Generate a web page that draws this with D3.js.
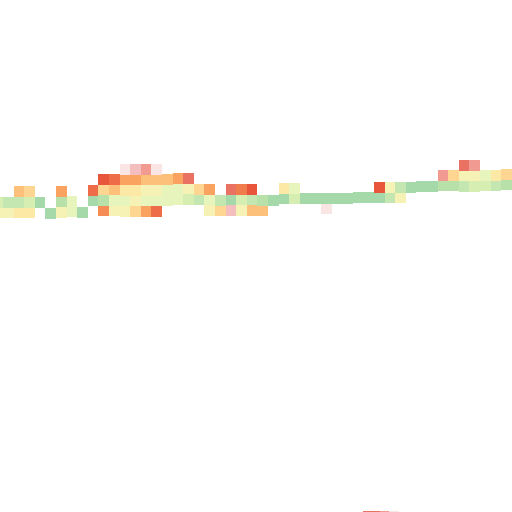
<!DOCTYPE html>
<html>
<head>
<meta charset="utf-8">
<script src="https://cdn.jsdelivr.net/npm/d3@7"></script>
<style>
  html, body { margin: 0; padding: 0; background: #ffffff; }
  svg { display: block; }
</style>
</head>
<body>
<svg id="chart" width="512" height="512"></svg>
<script>
// ---- data ----
// column index along the series
const columns = d3.range(0, 49);
// top of each column's stack (row units)
const columnTop = [
  18.58, 18.58, 17.59, 17.59, 18.58, 19.62, 17.55, 18.49, 19.53, 17.45,
  16.42, 16.42, 15.47, 15.47, 15.47, 15.47, 16.42, 16.32, 16.32, 17.36,
  17.36, 18.40, 17.36, 17.36, 17.36, 18.40, 18.40, 17.26, 17.26, 18.21,
  18.21, 18.21, 18.21, 18.21, 18.11, 18.11, 17.17, 17.17, 17.17, 17.17,
  17.08, 17.08, 16.04, 16.04, 15.09, 15.09, 16.04, 16.04, 15.94
];
// level of each cell in a column, from top to bottom
const columnLevels = [
  [3, 5], [2, 5], [8, 2, 6], [7, 3, 6], [0], [0], [9, 1, 5], [4, 4], [0], [11, 0],
  [12, 7, 1, 10], [11, 8, 4, 5], [16, 9, 6, 4, 5], [15, 9, 6, 5, 7], [14, 8, 5, 4, 9],
  [16, 8, 5, 4, 11], [8, 4, 4], [9, 4, 4], [13, 5, 3], [7, 2],
  [9, 4, 5], [2, 7], [13, 0, 15], [17, 3, 5], [12, 2, 8], [1, 8], [0], [6, 0], [4, 3], [0],
  [0], [0, 16], [0], [0], [0], [0], [12, 0], [5, 2], [2, 5], [0],
  [0], [0], [14, 1], [7, 1], [13, 5, 2], [14, 5, 3], [4, 3], [6, 2], [7, 1]
];
// lower strip at the bottom edge
const stripColumns = [35, 35.8, 36.6, 37.4];
const stripTop = [48.16, 48.16, 48.16, 48.16];
const stripLevels = [13, 13, 14, 16];

// ---- styles ----
const levelColors = [
  "#a6d9a9", "#b8e1a9", "#c4e6b0", "#d6eeb2", "#e7f4bc", "#f6f1b4",
  "#fde9a6", "#fed692", "#fdc07a", "#faa260", "#f58c55", "#ee6c47",
  "#e8553a", "#e97262", "#f09a91", "#f4bebe", "#fae5e5", "#f07c4c"
];

const W = 512, H = 512;
const x = d3.scaleLinear().domain([0, 49]).range([-7.6, 511.8]);
const y = d3.scaleLinear().domain([0, 48.3]).range([0, 512]);
const color = d3.scaleOrdinal().domain(d3.range(levelColors.length)).range(levelColors);
const cw = x(1) - x(0);
const ch = y(1) - y(0);

const cells = [];
columns.forEach((c, i) => {
  columnLevels[i].forEach((lv, r) => {
    cells.push({ col: c, row: columnTop[i] + r, level: lv });
  });
});
stripColumns.forEach((c, i) => {
  cells.push({ col: c, row: stripTop[i], level: stripLevels[i] });
});

const svg = d3.select("#chart");
svg.append("g")
  .selectAll("rect")
  .data(cells)
  .join("rect")
  .attr("x", d => x(d.col))
  .attr("y", d => y(d.row))
  .attr("width", cw)
  .attr("height", ch)
  .attr("fill", d => color(d.level))
  .attr("shape-rendering", "crispEdges");
</script>
</body>
</html>
